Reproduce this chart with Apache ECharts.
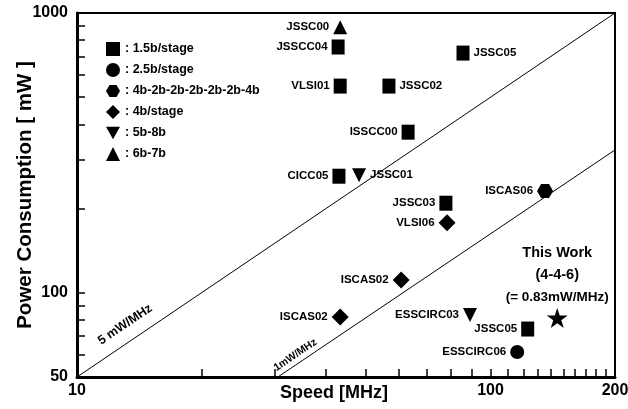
<!DOCTYPE html>
<html><head><meta charset="utf-8">
<script src="https://cdn.jsdelivr.net/npm/echarts@6/dist/echarts.min.js"></script>
<style>html,body{margin:0;padding:0;background:#fff}#c{width:628px;height:409px}</style>
</head><body><div id="c"></div>
<script>
// ---------------- DATA ----------------
const categories = ['1.5b/stage', '2.5b/stage', '4b-2b-2b-2b-2b-2b-4b', '4b/stage', '5b-8b', '6b-7b'];

const names15 = ['JSSCC04', 'JSSC05', 'VLSI01', 'JSSC02', 'ISSCC00', 'CICC05', 'JSSC03', 'JSSC05'];
const speed15 = [42.8, 85.8, 43.3, 56.8, 63.2, 43.0, 78.0, 123];
const power15 = [756, 719, 548, 548, 375, 261, 209, 74.2];

const names25 = ['ESSCIRC06'];
const speed25 = [116];
const power25 = [61.4];

const names4b2b = ['ISCAS06'];
const speed4b2b = [135.5];
const power4b2b = [231];

const names4b = ['VLSI06', 'ISCAS02', 'ISCAS02'];
const speed4b = [78.5, 60.8, 43.3];
const power4b = [178, 111, 82];

const names58 = ['JSSC01', 'ESSCIRC03'];
const speed58 = [48.1, 89.2];
const power58 = [263, 83.3];

const names67 = ['JSSC00'];
const speed67 = [43.3];
const power67 = [890];

const thisWorkSpeed = [145];
const thisWorkPower = [81.3];

const line5Speed = [10, 200];
const line5Power = [50, 1000];
const line1Speed = [30.6, 200];
const line1Power = [50, 324];

const xTickLabels = [10, 100, 200];
const yTickLabels = [50, 100, 1000];
const xTicks = [10, 20, 30, 40, 50, 60, 70, 80, 90, 100, 110, 120, 130, 140, 150, 160, 170, 180, 190, 200];
const yTicks = [50, 60, 70, 80, 90, 100, 200, 300, 400, 500, 600, 700, 800, 900, 1000];

// ---------------- STYLE ----------------
const SANS = "'Liberation Sans', Arial, sans-serif";
const hexPath = 'path://M-1,0 L-0.5,-0.866 L0.5,-0.866 L1,0 L0.5,0.866 L-0.5,0.866 Z';
const downTri = 'path://M0,0 L2,0 L1,1.8 Z';
const starPath = 'path://M0,-1 L0.2245,-0.309 L0.951,-0.309 L0.363,0.118 L0.588,0.809 L0,0.382 L-0.588,0.809 L-0.363,0.118 L-0.951,-0.309 L-0.2245,-0.309 Z';

const groups = [
  { cat: categories[0], names: names15, sp: speed15, pw: power15, symbol: 'rect', size: [13, 15], right: [1, 3] },
  { cat: categories[1], names: names25, sp: speed25, pw: power25, symbol: 'circle', size: 14, right: [] },
  { cat: categories[2], names: names4b2b, sp: speed4b2b, pw: power4b2b, symbol: hexPath, size: [16, 14], right: [] },
  { cat: categories[3], names: names4b, sp: speed4b, pw: power4b, symbol: 'diamond', size: 17, right: [] },
  { cat: categories[4], names: names58, sp: speed58, pw: power58, symbol: downTri, size: [14, 14], right: [0] },
  { cat: categories[5], names: names67, sp: speed67, pw: power67, symbol: 'triangle', size: 14, right: [] }
];

const labelBase = { show: true, color: '#000', opacity: 1, textBorderWidth: 0, fontFamily: SANS, fontWeight: 'bold', fontSize: 11.5, distance: 4, formatter: '{b}' };

const series = groups.map(g => ({
  type: 'scatter',
  name: g.cat,
  symbol: g.symbol,
  symbolSize: g.size,
  itemStyle: { color: '#000', opacity: 1 },
  label: Object.assign({}, labelBase, { position: 'left' }),
  emphasis: { disabled: true },
  data: g.names.map((n, i) => ({
    name: n,
    value: [g.sp[i], g.pw[i]],
    label: { position: g.right.indexOf(i) >= 0 ? 'right' : 'left' }
  }))
}));

series.push({
  type: 'scatter',
  name: 'This Work',
  symbol: starPath,
  symbolSize: [21, 20],
  itemStyle: { color: '#000', opacity: 1 },
  emphasis: { disabled: true },
  label: {
    show: true, position: 'top', distance: 0, color: '#000', textBorderWidth: 0,
    formatter: '{a|This Work}\n{b|(4-4-6)}\n{c|(= 0.83mW/MHz)}',
    rich: {
      a: { fontFamily: SANS, fontWeight: 'bold', fontSize: 14.5, lineHeight: 22, color: '#000', align: 'center' },
      b: { fontFamily: SANS, fontWeight: 'bold', fontSize: 14.5, lineHeight: 22, color: '#000', align: 'center' },
      c: { fontFamily: SANS, fontWeight: 'bold', fontSize: 13.5, lineHeight: 22, color: '#000', align: 'center' }
    }
  },
  data: thisWorkSpeed.map((s, i) => ({ name: 'This Work', value: [s, thisWorkPower[i]] })),
  markLine: {
    silent: true,
    symbol: ['none', 'none'],
    animation: false,
    lineStyle: { color: '#000', width: 1, type: 'solid' },
    label: { color: '#000', fontFamily: SANS, fontWeight: 'bold' },
    data: [
      [
        { coord: [line5Speed[0], line5Power[0]], label: { show: true, position: 'insideStartTop', formatter: '5 mW/MHz', fontSize: 12.5, distance: [38, 10] } },
        { coord: [line5Speed[1], line5Power[1]] }
      ],
      [
        { coord: [line1Speed[0], line1Power[0]], label: { show: true, position: 'insideStartTop', formatter: '1mW/MHz', fontSize: 10.5, distance: [2, 3] } },
        { coord: [line1Speed[1], line1Power[1]] }
      ]
    ]
  }
});

const option = {
  backgroundColor: '#fff',
  animation: false,
  grid: { left: 77, right: 13, top: 13, bottom: 32, show: true, borderColor: '#000', borderWidth: 2, containLabel: false, outerBoundsMode: 'none' },
  legend: {
    data: categories,
    orient: 'vertical',
    left: 101, top: 37,
    itemWidth: 14, itemHeight: 14, itemGap: 7,
    selectedMode: false,
    formatter: ': {name}',
    textStyle: { color: '#000', fontFamily: SANS, fontWeight: 'bold', fontSize: 12.5, lineHeight: 14 },
    itemStyle: { color: '#000' }
  },
  xAxis: {
    type: 'log', logBase: 10, min: 10, max: 200,
    name: 'Speed [MHz]', nameLocation: 'middle', nameGap: 7, nameMoveOverlap: false,
    nameTextStyle: { color: '#000', fontFamily: SANS, fontWeight: 'bold', fontSize: 18, padding: [0, 24, 0, 0] },
    axisLine: { show: true, lineStyle: { color: '#000', width: 3 } },
    axisTick: { show: true, inside: true, length: 8, customValues: xTicks, lineStyle: { color: '#000', width: 1.5 } },
    axisLabel: { customValues: xTickLabels, color: '#000', fontFamily: SANS, fontWeight: 'bold', fontSize: 16, margin: 6, formatter: v => String(Math.round(v)) },
    splitLine: { show: false }, minorTick: { show: false }, minorSplitLine: { show: false }
  },
  yAxis: {
    type: 'log', logBase: 10, min: 50, max: 1000,
    name: 'Power Consumption [ mW ]', nameLocation: 'middle', nameGap: 41, nameMoveOverlap: false,
    nameTextStyle: { color: '#000', fontFamily: SANS, fontWeight: 'bold', fontSize: 20.5 },
    axisLine: { show: true, lineStyle: { color: '#000', width: 3 } },
    axisTick: { show: true, inside: true, length: 8, customValues: yTicks, lineStyle: { color: '#000', width: 1.5 } },
    axisLabel: { customValues: yTickLabels, color: '#000', fontFamily: SANS, fontWeight: 'bold', fontSize: 16, margin: 9, formatter: v => String(Math.round(v)) },
    splitLine: { show: false }, minorTick: { show: false }, minorSplitLine: { show: false }
  },
  series: series
};

const chart = echarts.init(document.getElementById('c'), null, { renderer: 'canvas' });
chart.setOption(option);
</script>
</body></html>
